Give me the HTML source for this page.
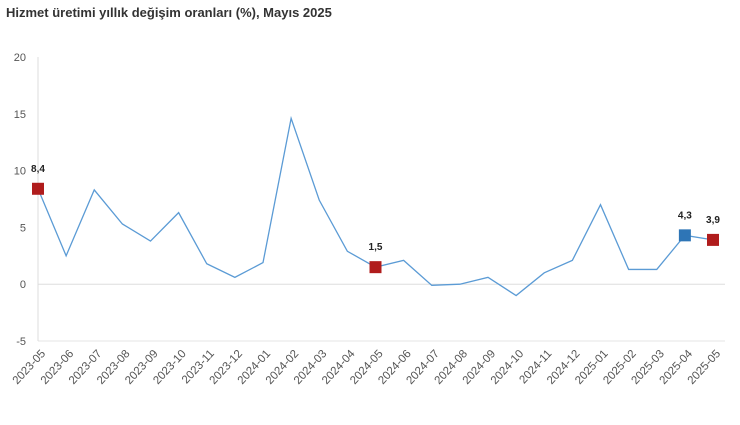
<!DOCTYPE html>
<html><head><meta charset="utf-8"><style>
body{margin:0;background:#fff;width:740px;height:420px;overflow:hidden;font-family:"Liberation Sans",sans-serif}
</style></head><body>
<svg id="chart" width="740" height="420">
<text x="6" y="17" font-size="13" font-weight="bold" fill="#333">Hizmet üretimi yıllık değişim oranları (%), Mayıs 2025</text>
<g id="axes"></g><g id="marks"></g>
</svg>
<script>
const categories=["2023-05","2023-06","2023-07","2023-08","2023-09","2023-10","2023-11","2023-12","2024-01","2024-02","2024-03","2024-04","2024-05","2024-06","2024-07","2024-08","2024-09","2024-10","2024-11","2024-12","2025-01","2025-02","2025-03","2025-04","2025-05"];
const values=[8.4,2.5,8.3,5.3,3.8,6.3,1.8,0.6,1.9,14.6,7.4,2.9,1.5,2.1,-0.1,0.0,0.6,-1.0,1.0,2.1,7.0,1.3,1.3,4.3,3.9];
const yTicks=[-5,0,5,10,15,20];
const highlightRed=[0,12,24];
const highlightBlue=[23];
const labels=["8,4","1,5","4,3","3,9"];
const labelIdx=[0,12,23,24];
const NS="http://www.w3.org/2000/svg";
const x0=38,x1=713,yTop=57,yBot=341,yMin=-5,yMax=20;
const X=i=>x0+(x1-x0)*i/(categories.length-1);
const Y=v=>yBot-(v-yMin)/(yMax-yMin)*(yBot-yTop);
function el(t,a,p){const e=document.createElementNS(NS,t);for(const k in a)e.setAttribute(k,a[k]);p.appendChild(e);return e;}
const ax=document.getElementById('axes'),mk=document.getElementById('marks');
yTicks.forEach(v=>{
 const t=el('text',{x:26,y:Y(v)+4,'font-size':11,fill:'#555','text-anchor':'end'},ax);
 
 
 t.textContent=v;
});
const zl=el('line',{x1:x0,x2:x1+12,y1:Y(0),y2:Y(0),stroke:'#ddd'},ax);


const bl=el('line',{x1:x0,x2:x1+12,y1:yBot,y2:yBot,stroke:'#e4e4e4'},ax);


const vl=el('line',{x1:x0,x2:x0,y1:yTop,y2:yBot,stroke:'#ddd'},ax);


categories.forEach((c,i)=>{
 const t=el('text',{x:0,y:0,'font-size':11.5,fill:'#555','text-anchor':'end',transform:`translate(${X(i)+8},${yBot+13}) rotate(-47)`},ax);
 
 
 t.textContent=c;
});
const ln=el('polyline',{points:values.map((v,i)=>X(i)+','+Y(v)).join(' '),fill:'none',stroke:'#5b9bd5','stroke-width':1.3},mk);


highlightRed.forEach(i=>{
 const r=el('rect',{x:X(i)-6,y:Y(values[i])-6,width:12,height:12,fill:'#b01c1c'},mk);
 
 
});
highlightBlue.forEach(i=>{
 const r=el('rect',{x:X(i)-6,y:Y(values[i])-6,width:12,height:12,fill:'#2e75b6'},mk);
 
 
});
labelIdx.forEach((i,k)=>{
 const t=el('text',{x:X(i),y:Y(values[i])-17,'font-size':10,'font-weight':'bold',fill:'#222','text-anchor':'middle'},mk);
 
 
 t.textContent=labels[k];
});
</script>
</body></html>
